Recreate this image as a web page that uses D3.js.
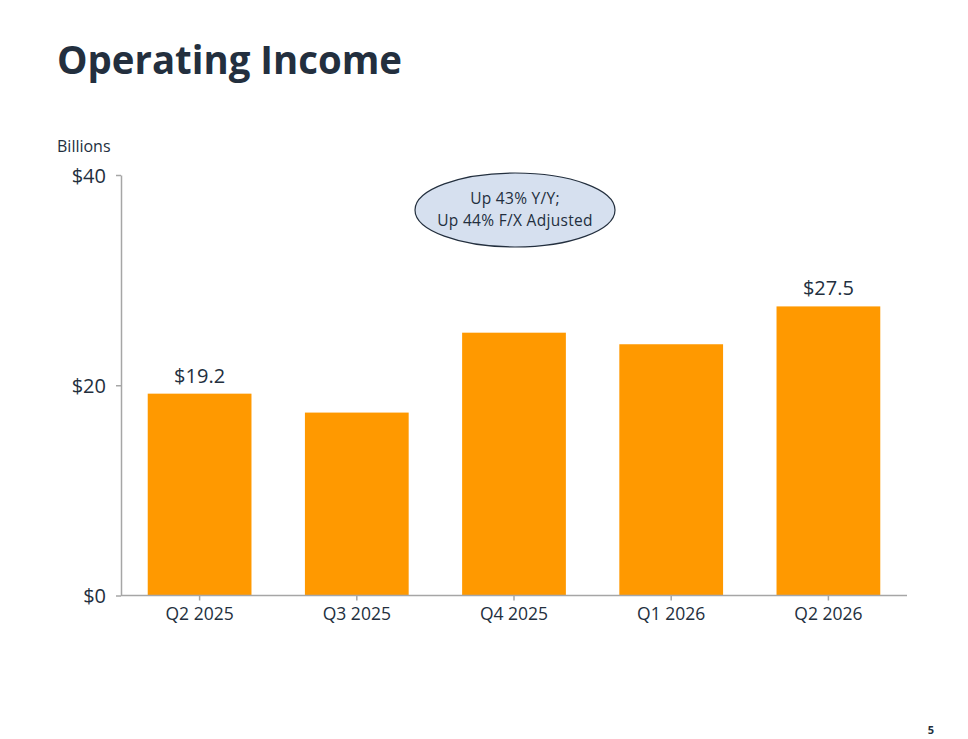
<!DOCTYPE html>
<html>
<head>
<meta charset="utf-8">
<title>Operating Income</title>
<style type="text/css">
body {
  margin: 0;
  background: #ffffff;
}
#chart {
  width: 968px;
  height: 739px;
}
text {
  font-family: "Open Sans", "Noto Sans", sans-serif;
  fill: #232f3e;
}
.axis path, .axis line {
  stroke: #a6a6a6;
  stroke-width: 1.5px;
}
</style>
</head>
<body>
<div id="chart"></div>
<script src="https://d3js.org/d3.v7.min.js"></script>
<script type="text/javascript">

// data
var quarters = ["Q2 2025", "Q3 2025", "Q4 2025", "Q1 2026", "Q2 2026"];
var income = [19.2, 17.4, 25.0, 23.9, 27.5];
var shownLabels = ["$19.2", "", "", "", "$27.5"];
var yTicks = [0, 20, 40];
var note = ["Up 43% Y/Y;", "Up 44% F/X Adjusted"];

var width = 968,
    height = 739;

var svg = d3.select("#chart")
  .append("svg")
  .attr("width", width)
  .attr("height", height);

// title
svg.append("text")
  .attr("x", 57)
  .attr("y", 74)
  .attr("font-size", 40)
  .attr("font-weight", "bold")
  .attr("textLength", 345)
  .attr("lengthAdjust", "spacingAndGlyphs")
  .text("Operating Income");

svg.append("text")
  .attr("x", 57)
  .attr("y", 152)
  .attr("font-size", 16)
  .text("Billions");

// scales
var x = d3.scaleBand()
  .domain(quarters)
  .range([121, 907])
  .paddingInner(0.34)
  .paddingOuter(0.17);

var y = d3.scaleLinear()
  .domain([0, 40])
  .range([595.5, 175]);

// bars
svg.selectAll("rect.bar")
  .data(income)
  .enter()
  .append("rect")
  .attr("class", "bar")
  .attr("x", function(d, i) { return x(quarters[i]); })
  .attr("y", function(d) { return y(d); })
  .attr("width", x.bandwidth())
  .attr("height", function(d) { return y(0) - y(d); })
  .attr("fill", "#ff9900");

// value labels
svg.selectAll("text.val")
  .data(income)
  .enter()
  .append("text")
  .attr("class", "val")
  .attr("x", function(d, i) { return x(quarters[i]) + x.bandwidth() / 2; })
  .attr("y", function(d) { return y(d) - 11; })
  .attr("text-anchor", "middle")
  .attr("font-size", 20)
  .text(function(d, i) { return shownLabels[i]; });

// y axis
var yAxis = svg.append("g")
  .attr("class", "axis")
  .attr("transform", "translate(121,0)")
  .call(d3.axisLeft(y).tickValues(yTicks).tickSize(5).tickSizeOuter(0)
    .tickFormat(function(d) { return "$" + d; }));
yAxis.selectAll("text")
  .attr("font-size", 20)
  .attr("x", -15)
  .attr("dy", "0.35em")
  .style("fill", "#232f3e");

// x axis
var xAxis = svg.append("g")
  .attr("class", "axis")
  .attr("transform", "translate(0," + y(0) + ")")
  .call(d3.axisBottom(x).tickSize(5).tickSizeOuter(0));
xAxis.selectAll("text")
  .attr("font-size", 17.5)
  .attr("y", 12)
  .style("fill", "#232f3e");
xAxis.select(".domain").attr("d", "M121,0H907");

// callout
var callout = svg.append("g").attr("transform", "translate(515,210)");
callout.append("ellipse")
  .attr("rx", 100)
  .attr("ry", 37)
  .attr("fill", "#d6e0ef")
  .attr("stroke", "#232f3e")
  .attr("stroke-width", 1.2);
callout.selectAll("text")
  .data(note)
  .enter()
  .append("text")
  .attr("text-anchor", "middle")
  .attr("y", function(d, i) { return -6 + i * 21.5; })
  .attr("font-size", 15.5)
  .style("letter-spacing", "0.3px")
  .text(function(d) { return d; });

// page number
svg.append("text")
  .attr("x", 934)
  .attr("y", 734)
  .attr("text-anchor", "end")
  .attr("font-size", 11)
  .attr("font-weight", "bold")
  .text("5");

</script>
</body>
</html>
